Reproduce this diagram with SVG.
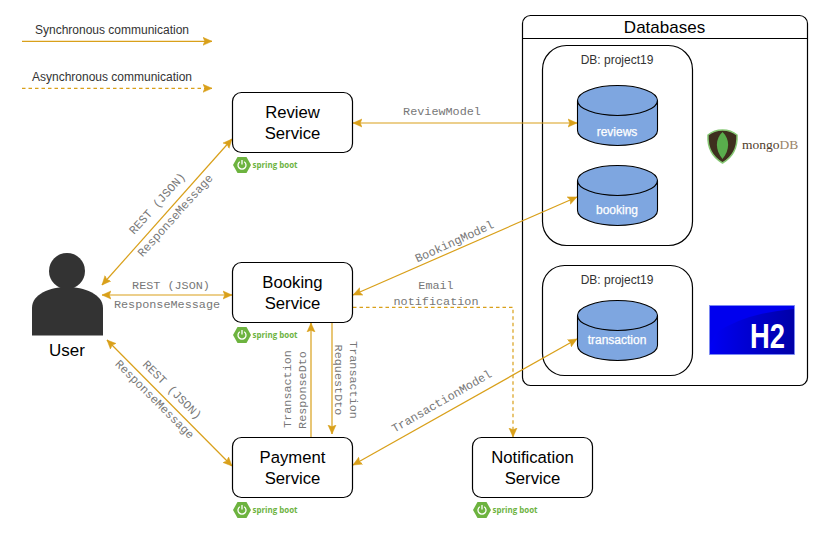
<svg xmlns="http://www.w3.org/2000/svg" width="823" height="536" viewBox="0 0 823 536">
<style>
.box{fill:#fff;stroke:#000;stroke-width:1.2}
.svc{font:16.7px "Liberation Sans",Arial,sans-serif;fill:#000;text-anchor:middle}
.leg{font:12px "Liberation Sans",Arial,sans-serif;fill:#333;text-anchor:middle}
.mono{font:11.8px "Liberation Mono","Courier New",monospace;fill:#777;text-anchor:middle}
.db{font:12px "Liberation Sans",Arial,sans-serif;fill:#fff;text-anchor:middle;stroke:#fff;stroke-width:.25}
.cyl{fill:#7ea6e0;stroke:#000;stroke-width:1.1}
.rim{fill:none;stroke:#000;stroke-width:1.1}
.c{fill:none;stroke:#d9a01a;stroke-width:1.2}
.both{marker-start:url(#a);marker-end:url(#a)}
.end{marker-end:url(#a)}
.dash{stroke-dasharray:3.500 3}
.sb{font:bold 8.500px "Open Sans","Liberation Sans",sans-serif;fill:#6db33f}
</style>
<defs>
<marker id="a" viewBox="0 0 9 10" refX="9" refY="5" markerWidth="9" markerHeight="10" markerUnits="userSpaceOnUse" orient="auto-start-reverse">
<path d="M0 1 L9 5 L0 9 L1.800 5 Z" fill="#d9a01a" stroke="#d9a01a" stroke-width=".5"/>
</marker>
<linearGradient id="h2g" x1="0" x2="1" y1="0" y2="0"><stop offset="0" stop-color="#0000f4"/><stop offset="1" stop-color="#0000a8"/></linearGradient>
<g id="spring">
<path d="M-9 0L-4.500 -8L4.500 -8L9 0L4.500 8L-4.500 8Z" fill="#6db33f"/>
<path d="M-2.200 -3.200A4 4 0 1 0 2.200 -3.200" fill="none" stroke="#fff" stroke-width="1.300"/>
<path d="M0 -5V-.5" stroke="#fff" stroke-width="1.300"/>
<text class="sb" x="10.500" y="2.500" textLength="45" lengthAdjust="spacingAndGlyphs">spring boot</text>
</g>
</defs>

<g id="legend">
<text class="leg" x="112" y="34">Synchronous communication</text>
<text class="leg" x="112" y="81">Asynchronous communication</text>
</g>

<g id="databases">
<rect class="box" x="522.500" y="15.500" width="285" height="370" rx="8"/>
<path d="M522.500 38.500H807.500" stroke="#000" stroke-width="1.200"/>
<text x="664.500" y="33" font-family="Liberation Sans,Arial,sans-serif" font-size="17" text-anchor="middle">Databases</text>
</g>
<g id="db-mongo-group">
<rect class="box" x="542.500" y="45.500" width="150" height="200" rx="24"/>
<text class="leg" x="617" y="64">DB: project19</text>
</g>
<g id="db-h2-group">
<rect class="box" x="542.500" y="265.500" width="150" height="110" rx="22"/>
<text class="leg" x="617" y="284">DB: project19</text>
</g>

<g id="reviews">
<path class="cyl" d="M577.500 100.500A40 15 0 0 1 657.500 100.500V130.500A40 15 0 0 1 577.500 130.500Z"/>
<path class="rim" d="M577.500 100.500A40 15 0 0 0 657.500 100.500"/>
<text class="db" x="617" y="136">reviews</text>
</g>
<g id="booking">
<path class="cyl" d="M577.500 180.500A40 15 0 0 1 657.500 180.500V210.500A40 15 0 0 1 577.500 210.500Z"/>
<path class="rim" d="M577.500 180.500A40 15 0 0 0 657.500 180.500"/>
<text class="db" x="617" y="214">booking</text>
</g>
<g id="transaction">
<path class="cyl" d="M577.500 315.500A40 15 0 0 1 657.500 315.500V345.500A40 15 0 0 1 577.500 345.500Z"/>
<path class="rim" d="M577.500 315.500A40 15 0 0 0 657.500 315.500"/>
<text class="db" x="617" y="344">transaction</text>
</g>

<g id="connectors">
<path class="c end" d="M22 41.300H212"/>
<path class="c end dash" d="M22 88.300H212"/>
<path class="c both" d="M102 285L232 139"/>
<path class="c both" d="M102 295H232"/>
<path class="c both" d="M107 340L232 466"/>
<path class="c both" d="M353 123H577"/>
<path class="c both" d="M353 295L577 197"/>
<path class="c both" d="M353 465L577 339"/>
<path class="c end" d="M311 437V323"/>
<path class="c end" d="M332 323V434"/>
<path class="c end dash" d="M353 307.300H513V437"/>
</g>

<g id="connector-labels">
<text class="mono" transform="translate(160 206) rotate(-48)">REST (JSON)</text>
<text class="mono" transform="translate(178 218) rotate(-48)">ResponseMessage</text>
<text class="mono" x="171" y="289">REST (JSON)</text>
<text class="mono" x="167" y="308">ResponseMessage</text>
<text class="mono" transform="translate(169.500 392.500) rotate(45)">REST (JSON)</text>
<text class="mono" transform="translate(152 402) rotate(45)">ResponseMessage</text>
<text class="mono" x="442" y="115">ReviewModel</text>
<text class="mono" transform="translate(456 245) rotate(-24.500)">BookingModel</text>
<text class="mono" x="436" y="289">Email</text>
<text class="mono" x="436" y="305">notification</text>
<text class="mono" transform="translate(443.500 404.500) rotate(-30)">TransactionModel</text>
<text class="mono" transform="translate(291 389) rotate(-90)">Transaction</text>
<text class="mono" transform="translate(306 390) rotate(-90)">ResponseDto</text>
<text class="mono" transform="translate(335 380) rotate(90)">RequestDto</text>
<text class="mono" transform="translate(350 380) rotate(90)">Transaction</text>
</g>

<g id="review-service">
<rect class="box" x="232.500" y="92.500" width="120" height="60" rx="9"/>
<text class="svc" x="292.500" y="118">Review</text>
<text class="svc" x="292.500" y="139">Service</text>
<use href="#spring" x="242" y="165"/>
</g>
<g id="booking-service">
<rect class="box" x="232.500" y="262.500" width="120" height="60" rx="9"/>
<text class="svc" x="292.500" y="288">Booking</text>
<text class="svc" x="292.500" y="309">Service</text>
<use href="#spring" x="242" y="335"/>
</g>
<g id="payment-service">
<rect class="box" x="232.500" y="437.500" width="120" height="60" rx="9"/>
<text class="svc" x="292.500" y="463">Payment</text>
<text class="svc" x="292.500" y="484">Service</text>
<use href="#spring" x="242" y="510"/>
</g>
<g id="notification-service">
<rect class="box" x="472.500" y="437.500" width="120" height="60" rx="9"/>
<text class="svc" x="532.500" y="463">Notification</text>
<text class="svc" x="532.500" y="484">Service</text>
<use href="#spring" x="482" y="510"/>
</g>

<g id="user">
<circle cx="67" cy="271" r="18" fill="#333"/>
<path d="M32 335.500V308C32 294 50 287 67 287S103 294 103 308V335.500Z" fill="#333"/>
<text class="svc" x="67" y="356" style="font-size:17px">User</text>
</g>

<g id="mongodb-logo">
<path d="M708 135Q714 130 722.500 130Q731 130 737 135Q738 154 722.500 163Q707 154 708 135Z" fill="#3e2f1e" stroke="#86c874" stroke-width="1.500"/>
<path d="M722.500 132C715 139 715 150 722.500 159C730 150 730 139 722.500 132Z" fill="#59ad4c"/>
<text x="742" y="149" font-family="Liberation Serif,serif" font-size="13.500"><tspan fill="#4f3d2c">mongo</tspan><tspan fill="#9a8468">DB</tspan></text>
</g>

<g id="h2-logo">
<rect x="709.500" y="305.500" width="85" height="49" fill="#0000ee" stroke="#7a8cf0" stroke-width=".8"/>
<path d="M794 354V309Q745 313 716 333L710 345V354Z" fill="url(#h2g)"/>
<text x="767.500" y="348" font-family="Liberation Sans,Arial,sans-serif" font-weight="bold" font-size="35" fill="#fff" text-anchor="middle" textLength="35" lengthAdjust="spacingAndGlyphs">H2</text>
</g>
</svg>
